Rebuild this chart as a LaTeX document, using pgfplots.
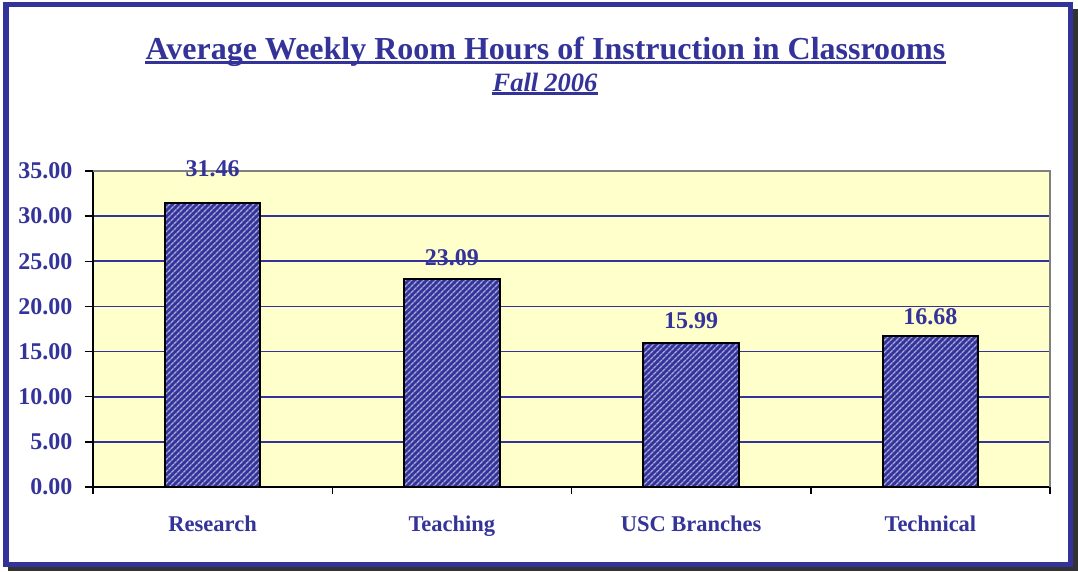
\documentclass[border=0pt]{standalone}
\usepackage{pgfplots}
\pgfplotsset{compat=1.18}
\usepackage{pgfplotstable}
\usepackage{fontspec}
\setmainfont{Liberation Serif}
\usetikzlibrary{patterns.meta}
\definecolor{navy}{HTML}{333399}
\definecolor{stripe}{HTML}{A8A8DA}
\definecolor{plotbg}{HTML}{FFFFCC}
\pgfplotstableread{
x y off
0.5 31.46 34
1.5 23.09 21
2.5 15.99 22
3.5 16.68 20
}\datatable
\begin{document}
\begin{tikzpicture}
\useasboundingbox (0,0) rectangle (1078pt,571pt);
% shadow and frame
\fill[black!80] (8pt,0pt) rectangle (1078pt,562pt);
\filldraw[fill=white, draw=navy, line width=5.5pt] (5.75pt,6.75pt) rectangle (1070.25pt,566.25pt);
% title
\node[anchor=base, inner sep=0pt, text=navy] (T) at (545.5pt,511.7pt)
  {\fontsize{32}{32}\selectfont\bfseries Average Weekly Room Hours of Instruction in Classrooms};
\draw[navy, line width=3pt] ([yshift=-3.3pt]T.base west) -- ([yshift=-3.3pt]T.base east);
\node[anchor=base, inner sep=0pt, text=navy] (S) at (545pt,479.3pt)
  {\fontsize{26.5}{26.5}\selectfont\bfseries\itshape Fall\kern6pt2006};
\draw[navy, line width=2.7pt] ([yshift=-1.8pt]S.base west) -- ([yshift=-1.8pt]S.base east);
\begin{axis}[
  at={(93pt,84pt)}, anchor=south west,
  scale only axis, width=957pt, height=316pt,
  xmin=0, xmax=4, ymin=0, ymax=35,
  axis x line*=bottom, axis y line*=left,
  axis line style={black, line width=2pt},
  axis background/.style={fill=plotbg},
  ytick={0,5,...,35},
  xtick={0.5,1.5,2.5,3.5},
  xticklabels={Research,Teaching,USC Branches,Technical},
  major x tick style={draw=none},
  minor xtick={0,1,2,3,4},
  minor x tick style={black, line width=1.5pt},
  minor tick length=7pt,
  major tick length=8pt,
  y tick style={black, line width=1.5pt},
  tick align=outside,
  ymajorgrids,
  grid style={navy, line width=1.6pt},
  /pgf/number format/assume math mode=true,
  yticklabel style={/pgf/number format/fixed, /pgf/number format/fixed zerofill, /pgf/number format/precision=2},
  yticklabel style={text=navy, font=\fontsize{24}{24}\selectfont\bfseries, xshift=-9pt},
  xticklabel style={text=navy, font=\fontsize{22.5}{22.5}\selectfont\bfseries, yshift=-17pt},
  nodes near coords,
  nodes near coords style={/pgf/number format/fixed, /pgf/number format/fixed zerofill, /pgf/number format/precision=2},
  visualization depends on={\thisrow{off} \as \off},
  every node near coord/.append style={anchor=center, yshift=\off pt, text=navy, font=\fontsize{24}{24}\selectfont\bfseries},
  clip=false,
]
\addplot[ybar, bar width=0.4, draw=black, line width=2pt, fill=navy,
  postaction={pattern={Lines[angle=45, distance=4pt, line width=1.5pt]}, pattern color=stripe}]
  table[x=x, y=y] {\datatable};
\draw[black!50, line width=2pt] (rel axis cs:0,1) -- (rel axis cs:1,1) -- (rel axis cs:1,0);
\end{axis}
\end{tikzpicture}
\end{document}
